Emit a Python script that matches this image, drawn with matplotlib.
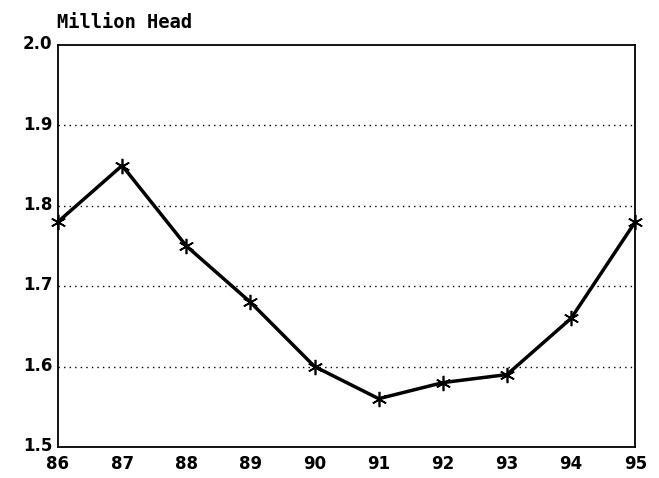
import matplotlib
matplotlib.use("Agg")
import matplotlib.pyplot as plt
import matplotlib.transforms as mtransforms

years = [86, 87, 88, 89, 90, 91, 92, 93, 94, 95]
head = [1.78, 1.85, 1.75, 1.68, 1.60, 1.56, 1.58, 1.59, 1.66, 1.78]
y_ticks = [1.5, 1.6, 1.7, 1.8, 1.9, 2.0]

fig = plt.figure(figsize=(6.59, 4.78), dpi=100)
ax = fig.add_axes([0.088, 0.065, 0.876, 0.841])

ax.plot(years, head, color="black", linewidth=2.5,
        marker=(6, 2, 0), markersize=11, markeredgewidth=1.2, clip_on=False)

ax.set_xlim(86, 95)
ax.set_ylim(1.5, 2.0)
ax.set_xticks(years)
ax.set_yticks(y_ticks)
ax.set_yticklabels([f"{v:.1f}" for v in y_ticks])
ax.tick_params(length=0, labelsize=12)
ax.tick_params(axis="x", pad=6)
ax.tick_params(axis="y", pad=4)
for lab in ax.get_xticklabels() + ax.get_yticklabels():
    lab.set_fontweight("heavy")
    lab.set_family("DejaVu Sans")

# lift the y labels a little so 1.5 clears the 86 below it
shift = mtransforms.ScaledTranslation(0, 2 / 72, fig.dpi_scale_trans)
for lab in ax.get_yticklabels():
    lab.set_transform(lab.get_transform() + shift)

for v in y_ticks[1:-1]:
    ax.axhline(v, color="black", linestyle=(0, (1, 3)), linewidth=1)

for s in ax.spines.values():
    s.set_linewidth(1.3)

fig.text(0.086, 0.942, "Million Head", fontsize=13.5, fontweight="bold",
         family="DejaVu Sans Mono", ha="left", va="baseline")

fig.savefig("out.png", dpi=100)
